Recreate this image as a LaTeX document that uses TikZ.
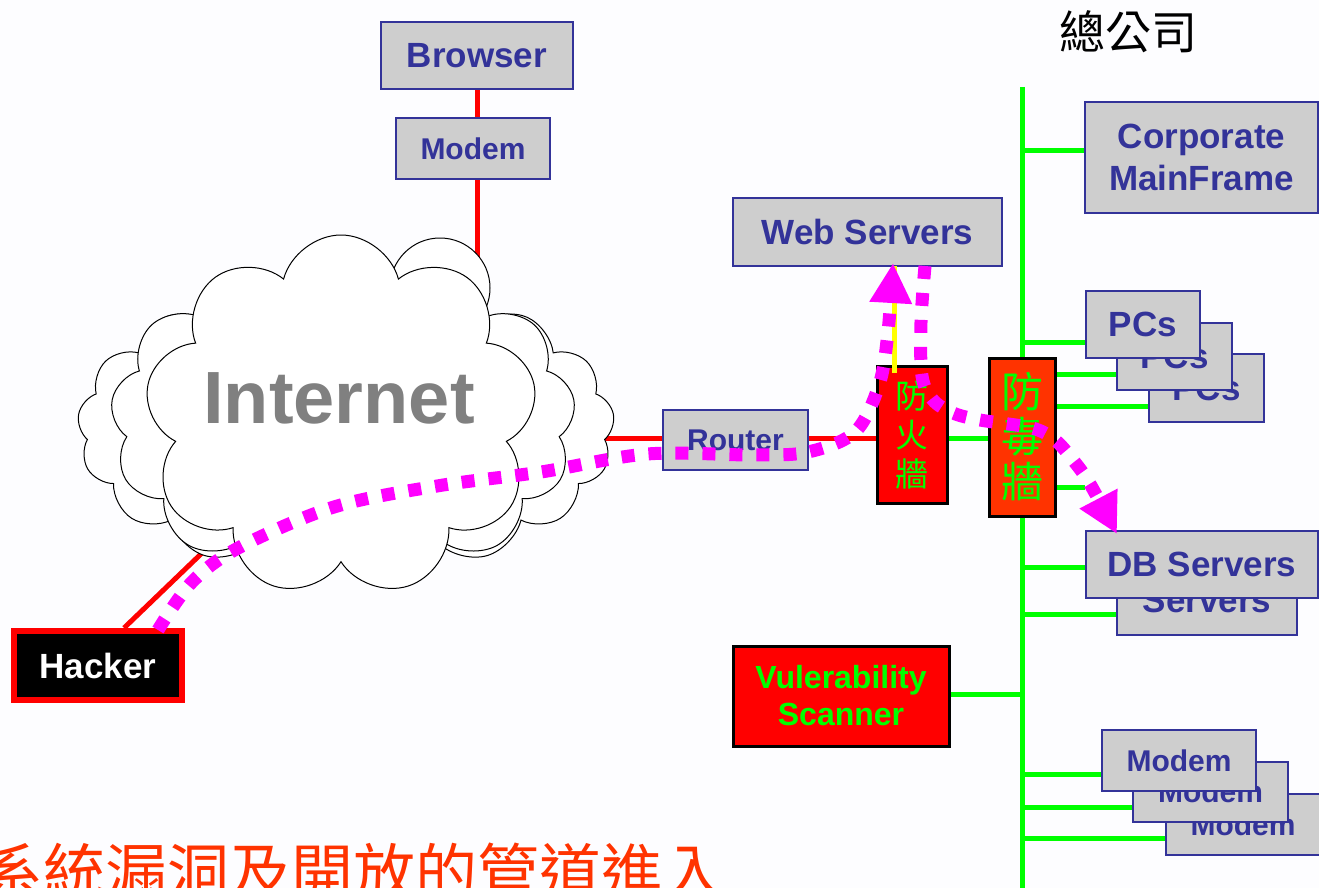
\documentclass[tikz,border=0pt]{standalone}
\usepackage{fontspec}
\setmainfont{Liberation Sans}
\newfontfamily\cjk{Noto Sans CJK TC}
\usetikzlibrary{shapes.symbols,arrows.meta,calc}
\pgfdeclarelayer{bg}
\pgfdeclarelayer{paper}
\pgfsetlayers{paper,bg,main}
\definecolor{navy}{HTML}{333399}
\definecolor{boxgray}{HTML}{CECECE}
\definecolor{bgc}{HTML}{FDFDFF}
\definecolor{lgreen}{HTML}{00FF00}
\definecolor{oranger}{HTML}{FF3300}
\definecolor{pureRed}{HTML}{FF0000}
\definecolor{mag}{HTML}{FF00FF}
\definecolor{yel}{HTML}{FFFF00}
\definecolor{inetgray}{HTML}{808080}
\begin{document}
\begin{tikzpicture}[x=1pt,y=-1pt,
  gbox/.style={draw=navy, fill=boxgray, line width=2.5pt, text=navy,
    font=\bfseries\fontsize{35}{42}\selectfont, inner sep=0pt, align=center},
  smallfont/.style={font=\bfseries\fontsize{30}{36}\selectfont},
  redbox/.style={draw=black, line width=3pt, inner sep=0pt, align=center},
  cloudlayer/.style={cloud, draw=black, fill=white, line width=1pt, inner sep=0pt, cloud ignores aspect},
  redline/.style={draw=pureRed, line width=5pt},
  greenline/.style={draw=lgreen, line width=5pt},
  yelline/.style={draw=yel, line width=5pt},
  attack/.style={draw=mag, line width=13pt, dash pattern=on 13pt off 14pt,
    -{Triangle[length=40pt,width=40pt]}}
]
\useasboundingbox (0,0) rectangle (1319,888);
\clip (0,0) rectangle (1319,888);
\begin{pgfonlayer}{paper}
  \fill[bgc] (0,0) rectangle (1319,888);
\end{pgfonlayer}

% ---------- cloud ----------
\node[cloudlayer, cloud puffs=17, cloud puff arc=120, minimum width=537pt, minimum height=300pt] (cloudback) at (346,428) {};
\node[cloudlayer, cloud puffs=13, cloud puff arc=130, minimum width=465pt, minimum height=335pt] (cloudmid) at (343,420) {};
\filldraw[fill=white, draw=black, line width=1pt] (440,288) circle[radius=50];
\node[cloudlayer, cloud puffs=9, cloud puff arc=150, minimum width=392pt, minimum height=362pt] (cloud) at (341,416) {};
\node[text=inetgray, font=\bfseries\fontsize{74}{80}\selectfont, inner sep=0pt] (inet) at (339,398) {Internet};
\coordinate (cloudtop) at (477,300);
\coordinate (cloudeast) at (560,438);
\coordinate (cloudsw) at (228,528);

% ---------- left / top boxes ----------
\node[gbox, minimum width=192pt, minimum height=67pt] (browser) at (477,55.5) {Browser};
\node[gbox, smallfont, minimum width=154pt, minimum height=61pt] (modemA) at (473,148.5) {Modem};
\node[gbox, minimum width=269pt, minimum height=68pt] (web) at (867.5,232) {Web Servers};
\node[gbox, smallfont, minimum width=145pt, minimum height=60pt] (router) at (735.5,440) {Router};
\node[draw=pureRed, fill=black, line width=6pt, minimum width=168pt, minimum height=69pt, inner sep=0pt,
  text=white, font=\bfseries\fontsize{35}{42}\selectfont] (hacker) at (98,665.5) {Hacker};

% ---------- firewalls ----------
\node[redbox, fill=pureRed, minimum width=70pt, minimum height=137pt, text=lgreen,
  font=\cjk\fontsize{33}{39}\selectfont] (fw) at (912,434.5) {防\\火\\牆};
\node[redbox, fill=oranger, minimum width=66pt, minimum height=158pt, text=lgreen,
  font=\cjk\fontsize{42}{45}\selectfont] (av) at (1022,437) {防\\毒\\牆};

% ---------- HQ side ----------
\node[font=\cjk\fontsize{46}{50}\selectfont, inner sep=0pt] (hq) at (1128,32) {總公司};
\node[gbox, minimum width=233pt, minimum height=111pt] (corp) at (1201.5,157.5) {Corporate\\MainFrame};

\node[gbox, minimum width=115pt, minimum height=68pt] (pc3) at (1206.5,388) {PCs};
\node[gbox, minimum width=115pt, minimum height=67pt] (pc2) at (1174.5,356.5) {PCs};
\node[gbox, minimum width=114pt, minimum height=67pt] (pc1) at (1143,324.5) {PCs};

\node[gbox, minimum width=180pt, minimum height=70pt] (db2) at (1207,600) {Servers};
\node[gbox, minimum width=232pt, minimum height=67pt] (db1) at (1202,564.5) {DB Servers};

\node[redbox, fill=pureRed, minimum width=216pt, minimum height=100pt, text=lgreen,
  font=\bfseries\fontsize{32}{37}\selectfont] (scan) at (841,696) {Vulerability\\Scanner};

\node[gbox, smallfont, minimum width=154pt, minimum height=61pt] (m3) at (1243,824.5) {Modem};
\node[gbox, smallfont, minimum width=155pt, minimum height=60pt] (m2) at (1210.5,792) {Modem};
\node[gbox, smallfont, minimum width=154pt, minimum height=61pt] (m1) at (1179,760.5) {Modem};

% bus coordinates
\coordinate (bustop) at (1022,87);
\coordinate (busbot) at (1022,892);
\coordinate (bCorp) at (1022,150);
\coordinate (bPC1) at (1022,342);
\coordinate (bPC2) at (1022,374);
\coordinate (bPC3) at (1022,406);
\coordinate (bFW) at (1022,438);
\coordinate (bX) at (1022,487);
\coordinate (xend) at (1085,487);
\coordinate (bDB1) at (1022,567);
\coordinate (bDB2) at (1022,614);
\coordinate (bVS) at (1022,694);
\coordinate (bM1) at (1022,774);
\coordinate (bM2) at (1022,807);
\coordinate (bM3) at (1022,838);

\begin{pgfonlayer}{bg}
  \draw[redline] (browser.south) -- (browser.south |- modemA.north);
  \draw[redline] (modemA.south -| browser.south) -- (cloudtop);
  \draw[redline] (cloudeast) -- (cloudeast -| router.west);
  \draw[redline] (cloudeast -| router.east) -- (cloudeast -| fw.west);
  \draw[redline] ([xshift=113pt]hacker.north west) -- (cloudsw);
  \draw[greenline] (bustop) -- (busbot);
  \draw[greenline] (bCorp) -- (bCorp -| corp.west);
  \draw[greenline] (bPC1) -- (bPC1 -| pc1.west);
  \draw[greenline] (bPC2) -- (bPC2 -| pc2.west);
  \draw[greenline] (bPC3) -- (bPC3 -| pc3.west);
  \draw[greenline] (bFW -| fw.east) -- (bFW);
  \draw[greenline] (bX) -- (xend);
  \draw[greenline] (bDB1) -- (bDB1 -| db1.west);
  \draw[greenline] (bDB2) -- (bDB2 -| db2.west);
  \draw[greenline] (bVS -| scan.east) -- (bVS);
  \draw[greenline] (bM1) -- (bM1 -| m1.west);
  \draw[greenline] (bM2) -- (bM2 -| m2.west);
  \draw[greenline] (bM3) -- (bM3 -| m3.west);
\end{pgfonlayer}

% yellow link firewall -> web servers
\coordinate (ytop) at (894,266);
\coordinate (ybot) at (894,373);
\draw[yelline] (ytop) -- (ybot);

% ---------- attack paths ----------
\coordinate (atk1) at (158,630);
\coordinate (atk1end) at (893,263);
\draw[attack] plot[smooth, tension=0.55] coordinates {(atk1) (192,582) (240,547) (334,507) (437,486) (541,472) (647,454) (754,455) (808,452) (855,432) (879,385) (888,332) (atk1end)};
\coordinate (atk2) at (925,266);
\coordinate (atk2end) at (1117,534);
\draw[attack] plot[smooth, tension=0.55] coordinates {(atk2) (921,322) (922,376) (933,400) (953,413) (980,420) (1032,428) (1055,440) (1073,460) (1090,484) (atk2end)};

% ---------- slogan ----------
\node[anchor=base west, text=oranger, font=\cjk\fontsize{62}{70}\selectfont, inner sep=0pt] (slogan) at (-19,895) {系統漏洞及開放的管道進入};
\end{tikzpicture}
\end{document}
